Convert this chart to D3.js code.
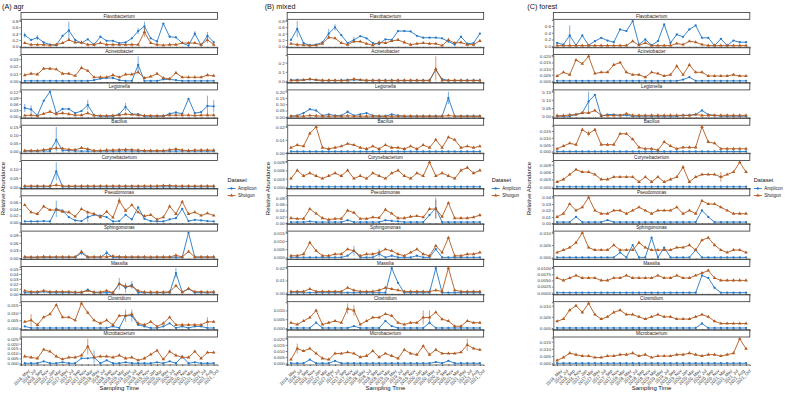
<!DOCTYPE html>
<html>
<head>
<meta charset="utf-8">
<script src="https://cdn.jsdelivr.net/npm/d3@7"></script>
<style>
  body { margin: 0; background: #fff; }
  text { font-family: "Liberation Sans", Arial, sans-serif; }
</style>
</head>
<body>
<svg id="chart" width="788" height="393"></svg>
<script>
// sampling times (x axis)
const times = ["2016_May","2016_Jul","2016_Sep","2016_Nov","2017_Jan","2017_Mar","2017_May","2017_Jul",
  "2017_Sep","2017_Nov","2018_Mar","2018_May","2018_Jul","2018_Sep","2018_Nov","2019_Mar","2019_May",
  "2019_Jul","2019_Sep","2019_Nov","2020_Jan","2020_Mar","2020_May","2020_Jul","2020_Sep","2020_Nov",
  "2021_Mar","2021_May","2021_Jul","2021_Aug","2021_Oct"];
const genera = ["Flavobacterium","Acinetobacter","Legionella","Bacillus","Corynebacterium",
  "Pseudomonas","Sphingomonas","Massilia","Clostridium","Microbacterium"];
const sites = ["agr","mixed","forest"];
const siteTitles = ["(A) agr","(B) mixed","(C) forest"];
const datasets = ["Amplicon","Shotgun"];

// mean relative abundance, one row per genus (same order as genera)
const agrAmplicon = [
  [0.35,0.2,0.27,0.12,0.05,0.03,0.33,0.5,0.2,0.1,0.22,0.05,0.3,0.17,0.17,0.1,0.12,0.25,0.48,0.63,0.25,0.15,0.72,0.3,0.28,0.1,0.02,0.4,0.03,0.33,0.13],
  [0,0,0,0,0,0,0,0,0,0,0,0.001,0.003,0.004,0.004,0.001,0,0,0.022,0,0,0,0.002,0.002,0.001,0,0,0,0,0,0],
  [0.04,0.033,0.003,0.075,0.12,0.015,0.035,0.035,0.015,0.025,0.055,0.005,0,0,0,0.01,0.045,0.01,0.01,0,0,0,0,0.012,0.018,0.012,0.085,0.015,0.02,0.05,0.048],
  [0.002,0.002,0.002,0.003,0.002,0.07,0.005,0.005,0.003,0.002,0.002,0.002,0.002,0.002,0.002,0.002,0.003,0.002,0.002,0.002,0.002,0.002,0.002,0.002,0.002,0.003,0.002,0.002,0.002,0.002,0.002],
  [0.001,0.001,0.001,0.001,0.001,0.085,0.001,0.001,0.001,0.001,0.001,0.001,0.001,0.001,0.001,0.001,0.001,0.001,0.001,0.001,0.001,0.001,0.001,0.001,0.001,0.001,0.001,0.001,0.001,0.001,0.001],
  [0.002,0.002,0.002,0.003,0.002,0.04,0.035,0.015,0.005,0.003,0.015,0.022,0.02,0.015,0.002,0.003,0.022,0.008,0.045,0.01,0.003,0.002,0.002,0.008,0.012,0.04,0.003,0.007,0.005,0.003,0.002],
  [0.002,0.002,0.002,0.002,0.002,0.002,0.002,0.002,0.002,0.02,0.002,0.003,0.002,0.02,0.002,0.002,0.002,0.002,0.002,0.002,0.002,0.002,0.002,0.002,0.002,0.002,0.1,0.002,0.002,0.002,0.002],
  [0.002,0.002,0.002,0.004,0.002,0.002,0.002,0.002,0.002,0.002,0.008,0.002,0.002,0.002,0.002,0.02,0.012,0.018,0.002,0.002,0.002,0.002,0.002,0.002,0.042,0.003,0.01,0.002,0.002,0.002,0.002],
  [0.001,0,0,0,0,0,0,0,0,0,0,0,0,0,0.001,0,0.008,0.008,0.002,0.001,0,0,0.001,0.003,0,0.001,0,0.001,0.001,0,0],
  [0,0,0,0.002,0,0,0.001,0,0,0.005,0.005,0.006,0,0.003,0,0,0.001,0,0,0,0,0.001,0,0.002,0,0.007,0,0.001,0,0,0]
];
const agrShotgun = [
  [0.1,0.05,0.05,0.05,0.03,0.05,0.1,0.2,0.12,0.12,0.05,0.05,0.1,0.05,0.05,0.05,0.05,0.05,0.05,0.45,0.1,0.05,0.03,0.05,0.05,0.1,0.1,0.1,0.05,0.2,0.05],
  [0.008,0.01,0.009,0.017,0.017,0.016,0.01,0.01,0.007,0.018,0.014,0.005,0.005,0.005,0.008,0.005,0.009,0.009,0.012,0.004,0.006,0.01,0.004,0.003,0.011,0.005,0.005,0.005,0.005,0.008,0.007],
  [0.003,0.005,0.002,0.012,0.022,0.01,0.015,0.01,0.005,0.005,0.015,0.003,0.002,0.002,0.003,0.005,0.01,0.008,0.005,0.003,0.002,0.002,0.002,0.005,0.005,0.005,0.005,0.003,0.005,0.005,0.005],
  [0.005,0.005,0.005,0.01,0.015,0.02,0.018,0.012,0.01,0.022,0.015,0.005,0.005,0.008,0.008,0.01,0.012,0.01,0.008,0.005,0.005,0.005,0.005,0.01,0.015,0.008,0.005,0.008,0.008,0.008,0.008],
  [0.005,0.005,0.005,0.005,0.005,0.01,0.005,0.005,0.005,0.005,0.005,0.005,0.005,0.005,0.005,0.005,0.005,0.005,0.005,0.005,0.005,0.005,0.008,0.008,0.005,0.005,0.005,0.005,0.005,0.005,0.005],
  [0.052,0.03,0.025,0.048,0.037,0.037,0.032,0.03,0.017,0.04,0.03,0.025,0.015,0.032,0.014,0.065,0.035,0.052,0.03,0.018,0.022,0.008,0.015,0.048,0.025,0.062,0.025,0.03,0.02,0.027,0.02],
  [0.004,0.003,0.003,0.005,0.004,0.004,0.004,0.004,0.004,0.025,0.004,0.004,0.004,0.004,0.007,0.005,0.004,0.004,0.004,0.004,0.003,0.004,0.004,0.004,0.01,0.004,0.025,0.004,0.004,0.004,0.004],
  [0.006,0.004,0.004,0.006,0.004,0.004,0.004,0.004,0.003,0.003,0.006,0.003,0.003,0.006,0.002,0.02,0.015,0.015,0.006,0.003,0.003,0.003,0.003,0.004,0.016,0.003,0.01,0.004,0.004,0.003,0.004],
  [0.004,0.005,0.002,0.007,0.009,0.015,0.007,0.007,0.005,0.016,0.01,0.005,0.003,0.005,0.002,0.008,0.008,0.009,0.003,0.002,0.004,0.001,0.003,0.007,0.002,0.002,0.002,0.002,0.002,0.004,0.004],
  [0.007,0.006,0.005,0.014,0.012,0.007,0.004,0.006,0.006,0.008,0.017,0.006,0.007,0.007,0.006,0.008,0.005,0.006,0.003,0.005,0.009,0.013,0.004,0.012,0.008,0.006,0.006,0.012,0.005,0.011,0.011]
];
const mixedAmplicon = [
  [0.2,0.55,0.1,0.03,0.05,0.12,0.4,0.6,0.35,0.1,0.2,0.32,0.25,0.1,0.07,0.22,0.2,0.48,0.48,0.47,0.33,0.27,0.27,0.27,0.25,0.15,0.05,0.3,0.08,0.1,0.4],
  [0.01,0.01,0.01,0.015,0.01,0.005,0.005,0.005,0.005,0.01,0.01,0.01,0.005,0.005,0.005,0.005,0.005,0.005,0.005,0.005,0.005,0.005,0.005,0.12,0.02,0.005,0.005,0.005,0.005,0.005,0.005],
  [0.005,0.01,0.03,0.06,0.05,0.01,0.02,0.01,0.01,0.04,0.01,0.02,0.03,0.01,0.005,0.005,0.02,0.01,0.005,0.005,0.005,0.005,0.005,0.005,0.005,0.15,0.005,0.005,0.005,0.005,0.005],
  [0.001,0.001,0.001,0.001,0.001,0.001,0.001,0.001,0.001,0.001,0.001,0.001,0.001,0.001,0.001,0.001,0.001,0.001,0.001,0.001,0.001,0.001,0.001,0.001,0.001,0.001,0.001,0.001,0.001,0.001,0.001],
  [0,0,0,0,0,0,0,0,0,0,0,0,0,0,0,0,0,0,0,0,0,0,0,0,0,0,0,0,0,0,0],
  [0.002,0.002,0.002,0.004,0.002,0.002,0.002,0.002,0.002,0.008,0.002,0.002,0.002,0.002,0.002,0.008,0.006,0.004,0.002,0.002,0.002,0.002,0.025,0.048,0.002,0.002,0.002,0.002,0.002,0.002,0.002],
  [0,0,0,0,0,0,0,0,0,0.001,0.004,0,0,0,0.002,0,0.001,0,0,0,0.001,0,0,0.005,0,0,0,0,0,0,0],
  [0,0,0,0,0,0,0,0,0,0,0,0,0,0,0,0,0.02,0.008,0,0,0,0,0,0.02,0,0,0,0,0,0,0],
  [0,0,0,0,0.003,0,0,0,0,0,0.001,0,0,0,0,0.004,0.001,0,0,0,0,0,0.003,0,0,0,0,0,0,0,0],
  [0,0,0,0.003,0,0,0,0.002,0,0,0,0,0,0,0,0,0,0,0,0,0,0,0,0.001,0,0.002,0,0,0,0,0]
];
const mixedShotgun = [
  [0.08,0.05,0.04,0.02,0.03,0.08,0.28,0.25,0.1,0.05,0.15,0.15,0.08,0.03,0.12,0.1,0.17,0.2,0.12,0.05,0.08,0.1,0.08,0.08,0.02,0.2,0.1,0.12,0.05,0.05,0.17],
  [0.005,0.005,0.01,0.02,0.01,0.005,0.005,0.005,0.005,0.005,0.02,0.01,0.005,0.005,0.005,0.005,0.005,0.005,0.005,0.005,0.005,0.005,0.005,0.13,0.005,0.005,0.005,0.005,0.005,0.005,0.005],
  [0.005,0.005,0.005,0.01,0.008,0.005,0.005,0.005,0.005,0.008,0.005,0.005,0.005,0.005,0.005,0.005,0.005,0.005,0.005,0.005,0.005,0.005,0.005,0.005,0.005,0.01,0.005,0.005,0.005,0.005,0.005],
  [0.004,0.006,0.005,0.015,0.02,0.004,0.003,0.004,0.005,0.007,0.006,0.004,0.003,0.005,0.003,0.006,0.004,0.004,0.003,0.005,0.003,0.006,0.004,0.01,0.004,0.012,0.01,0.004,0.005,0.004,0.005],
  [0.003,0.006,0.004,0.005,0.004,0.003,0.004,0.005,0.004,0.006,0.003,0.004,0.003,0.005,0.004,0.003,0.005,0.006,0.004,0.003,0.005,0.004,0.009,0.004,0.005,0.004,0.003,0.006,0.007,0.005,0.006],
  [0.015,0.013,0.013,0.045,0.03,0.015,0.01,0.013,0.013,0.04,0.033,0.013,0.013,0.018,0.016,0.043,0.03,0.015,0.015,0.02,0.022,0.018,0.045,0.045,0.02,0.065,0.015,0.015,0.015,0.018,0.025],
  [0.001,0.001,0.002,0.009,0.004,0.001,0.001,0.002,0.002,0.005,0.004,0.001,0.002,0.002,0.003,0.005,0.004,0.002,0.001,0.003,0.005,0.002,0.001,0.007,0.003,0.012,0.001,0.001,0.002,0.002,0.003],
  [0.001,0.001,0.001,0.003,0.001,0.001,0.001,0.001,0.001,0.004,0.002,0.001,0.001,0.001,0.002,0.004,0.003,0.002,0.001,0.001,0.001,0.001,0.001,0.002,0.001,0.02,0.002,0.001,0.001,0.001,0.001],
  [0.003,0.002,0.004,0.006,0.01,0.002,0.003,0.004,0.003,0.011,0.01,0.002,0.004,0.006,0.006,0.008,0.007,0.003,0.002,0.003,0.003,0.006,0.006,0.009,0.005,0.004,0.001,0.001,0.004,0.003,0.003],
  [0.003,0.012,0.01,0.012,0.008,0.004,0.003,0.008,0.008,0.009,0.008,0.005,0.006,0.01,0.005,0.008,0.006,0.004,0.011,0.008,0.007,0.014,0.007,0.011,0.008,0.008,0.008,0.009,0.015,0.012,0.011]
];
const forestAmplicon = [
  [0.1,0.05,0.32,0.03,0.32,0.03,0.15,0.25,0.17,0.12,0.5,0.45,0.75,0.05,0.2,0.03,0.15,0.65,0.1,0.35,0.28,0.5,0.62,0.25,0.25,0.02,0.22,0.02,0.17,0.12,0.12],
  [0,0,0,0,0,0,0,0,0,0,0,0,0,0,0,0,0,0,0,0,0.001,0.003,0,0,0,0,0,0,0,0,0],
  [0,0,0,0.01,0.02,0.09,0.13,0,0.01,0.01,0.005,0.005,0,0,0,0,0,0,0,0,0.005,0.005,0.01,0.035,0.01,0.005,0,0,0,0,0],
  [0,0,0,0,0,0,0,0,0,0,0,0,0,0,0,0,0,0,0,0,0,0,0,0,0,0,0,0,0,0,0],
  [0,0,0,0,0,0,0,0,0,0,0,0,0,0,0,0,0,0,0,0,0,0,0,0,0,0,0,0,0,0,0],
  [0.002,0.002,0.002,0.01,0.002,0.002,0.002,0.002,0.005,0.002,0.002,0.002,0.002,0.002,0.002,0.002,0.002,0.002,0.002,0.002,0.002,0.002,0.002,0.02,0.01,0.002,0.002,0.002,0.002,0.002,0.002],
  [0,0,0,0,0,0,0,0,0,0,0.002,0,0.005,0,0,0.008,0,0.004,0,0,0,0,0.003,0,0,0,0,0,0,0,0],
  [0,0,0,0,0,0,0,0,0,0,0,0,0,0,0,0,0,0,0,0,0,0,0,0.007,0.006,0.002,0,0,0,0,0],
  [0,0,0,0,0,0,0,0,0,0,0,0,0,0,0,0,0,0,0,0,0,0,0,0.002,0,0,0,0,0,0,0],
  [0,0,0,0,0,0,0,0,0,0,0,0,0,0,0,0,0,0,0,0,0,0,0,0,0,0,0,0,0,0,0]
];
const forestShotgun = [
  [0.02,0.02,0.02,0.02,0.02,0.02,0.02,0.02,0.02,0.02,0.02,0.02,0.15,0.03,0.1,0.02,0.02,0.02,0.02,0.08,0.05,0.15,0.12,0.05,0.02,0.02,0.02,0.02,0.02,0.02,0.02],
  [0.004,0.007,0.005,0.017,0.014,0.02,0.006,0.007,0.007,0.013,0.015,0.007,0.005,0.005,0.003,0.007,0.006,0.004,0.005,0.012,0.005,0.013,0.007,0.007,0.004,0.004,0.004,0.004,0.005,0.004,0.004],
  [0.003,0.003,0.008,0.01,0.02,0.02,0.035,0.005,0.005,0.005,0.005,0.015,0.005,0.005,0.005,0.005,0.005,0.005,0.005,0.005,0.005,0.005,0.01,0.005,0.005,0.005,0.005,0.005,0.005,0.005,0.005],
  [0.002,0.004,0.006,0.005,0.016,0.013,0.016,0.005,0.005,0.005,0.013,0.013,0.009,0.003,0.002,0.002,0.001,0.007,0.004,0.002,0.003,0.003,0.003,0.018,0.007,0.006,0.002,0.002,0.002,0.002,0.002],
  [0.002,0.003,0.005,0.007,0.006,0.006,0.005,0.003,0.003,0.004,0.004,0.004,0.004,0.002,0.004,0.002,0.004,0.002,0.003,0.004,0.008,0.002,0.004,0.005,0.005,0.005,0.004,0.005,0.006,0.01,0.006],
  [0.01,0.015,0.03,0.02,0.025,0.04,0.02,0.015,0.015,0.02,0.02,0.015,0.02,0.025,0.02,0.015,0.02,0.02,0.02,0.025,0.015,0.02,0.015,0.035,0.03,0.03,0.025,0.02,0.015,0.015,0.015],
  [0.002,0.003,0.004,0.006,0.01,0.004,0.003,0.003,0.003,0.005,0.003,0.003,0.003,0.006,0.004,0.003,0.003,0.003,0.003,0.004,0.004,0.005,0.003,0.007,0.008,0.005,0.003,0.002,0.003,0.003,0.002],
  [0.006,0.005,0.006,0.007,0.006,0.006,0.006,0.005,0.005,0.006,0.006,0.007,0.006,0.006,0.006,0.006,0.007,0.006,0.006,0.007,0.006,0.006,0.007,0.008,0.009,0.006,0.005,0.005,0.005,0.005,0.005],
  [0.003,0.004,0.008,0.01,0.007,0.011,0.006,0.004,0.005,0.007,0.008,0.006,0.006,0.005,0.004,0.005,0.006,0.005,0.005,0.004,0.004,0.004,0.005,0.006,0.005,0.003,0.002,0.002,0.002,0.002,0.002],
  [0.002,0.004,0.007,0.006,0.005,0.005,0.004,0.004,0.005,0.005,0.006,0.006,0.007,0.005,0.006,0.004,0.005,0.005,0.005,0.006,0.006,0.007,0.006,0.005,0.006,0.006,0.005,0.006,0.007,0.017,0.01]
];

// y tick labels per facet
const agrTicks = [
  ["0.0","0.2","0.4","0.6","0.8"], ["0.00","0.01","0.02","0.03"], ["0.00","0.03","0.06","0.09","0.12"],
  ["0.00","0.05","0.10","0.15"], ["0.00","0.05","0.10"], ["0.00","0.02","0.04","0.06"],
  ["0.00","0.03","0.06","0.09"], ["0.00","0.01","0.02","0.03","0.04","0.05"],
  ["0.000","0.005","0.010","0.015"], ["0.000","0.005","0.010","0.015","0.020","0.025"]
];
const mixedTicks = [
  ["0.0","0.2","0.4","0.6","0.8"], ["0.0","0.1","0.2"], ["0.00","0.05","0.10","0.15","0.20"],
  ["0.00","0.01","0.02"], ["0.000","0.003","0.006","0.009"], ["0.00","0.02","0.04","0.06","0.08"],
  ["0.000","0.005","0.010","0.015"], ["0.00","0.01","0.02"],
  ["0.000","0.005","0.010"], ["0.000","0.005","0.010","0.015","0.020"]
];
const forestTicks = [
  ["0.0","0.2","0.4","0.6"], ["0.000","0.005","0.010","0.015","0.020"], ["0.00","0.05","0.10","0.15"],
  ["0.000","0.005","0.010","0.015"], ["0.000","0.003","0.006","0.009"], ["0.00","0.01","0.02","0.03","0.04"],
  ["0.000","0.005","0.010"], ["0.0000","0.0025","0.0050","0.0075","0.0100"],
  ["0.000","0.005","0.010"], ["0.000","0.005","0.010","0.015"]
];

// larger standard errors: [site, genus, dataset, time index, se]
const errorBars = [
  ["agr","Flavobacterium","Amplicon",0,0.08],["agr","Flavobacterium","Amplicon",2,0.08],
  ["agr","Flavobacterium","Amplicon",7,0.28],["agr","Flavobacterium","Amplicon",18,0.1],
  ["agr","Flavobacterium","Amplicon",19,0.15],["agr","Flavobacterium","Amplicon",27,0.08],
  ["agr","Flavobacterium","Amplicon",29,0.12],["agr","Flavobacterium","Shotgun",19,0.15],
  ["agr","Flavobacterium","Shotgun",29,0.1],
  ["agr","Acinetobacter","Amplicon",18,0.012],
  ["agr","Legionella","Amplicon",0,0.02],["agr","Legionella","Amplicon",1,0.02],
  ["agr","Legionella","Amplicon",10,0.025],["agr","Legionella","Amplicon",16,0.02],
  ["agr","Legionella","Amplicon",29,0.05],["agr","Legionella","Amplicon",30,0.03],
  ["agr","Bacillus","Amplicon",5,0.08],["agr","Corynebacterium","Amplicon",5,0.05],
  ["agr","Pseudomonas","Amplicon",5,0.025],["agr","Pseudomonas","Amplicon",10,0.015],
  ["agr","Pseudomonas","Shotgun",15,0.01],
  ["agr","Sphingomonas","Amplicon",9,0.01],["agr","Sphingomonas","Amplicon",13,0.01],
  ["agr","Massilia","Amplicon",15,0.012],["agr","Massilia","Amplicon",16,0.01],
  ["agr","Massilia","Amplicon",17,0.008],["agr","Massilia","Amplicon",24,0.01],
  ["agr","Clostridium","Shotgun",1,0.004],["agr","Clostridium","Amplicon",16,0.004],
  ["agr","Clostridium","Amplicon",17,0.004],["agr","Clostridium","Shotgun",29,0.003],
  ["agr","Microbacterium","Shotgun",10,0.008],["agr","Microbacterium","Amplicon",11,0.007],
  ["mixed","Flavobacterium","Amplicon",1,0.25],["mixed","Flavobacterium","Amplicon",6,0.15],
  ["mixed","Flavobacterium","Amplicon",7,0.1],["mixed","Flavobacterium","Amplicon",10,0.1],
  ["mixed","Flavobacterium","Shotgun",6,0.05],
  ["mixed","Acinetobacter","Shotgun",23,0.14],["mixed","Legionella","Amplicon",25,0.05],
  ["mixed","Pseudomonas","Shotgun",23,0.03],["mixed","Pseudomonas","Amplicon",23,0.035],
  ["mixed","Sphingomonas","Amplicon",10,0.003],["mixed","Sphingomonas","Amplicon",14,0.003],
  ["mixed","Clostridium","Shotgun",9,0.003],["mixed","Clostridium","Shotgun",10,0.003],
  ["mixed","Clostridium","Shotgun",21,0.004],["mixed","Clostridium","Shotgun",22,0.004],
  ["mixed","Microbacterium","Shotgun",1,0.004],["mixed","Microbacterium","Shotgun",28,0.005],
  ["forest","Flavobacterium","Amplicon",2,0.3],["forest","Legionella","Amplicon",5,0.06],
  ["forest","Bacillus","Shotgun",5,0.002],["forest","Corynebacterium","Shotgun",26,0.002]
];

const colors = { Amplicon: "#2478c6", Shotgun: "#b35a1f" };
const values = {
  agr: { Amplicon: agrAmplicon, Shotgun: agrShotgun },
  mixed: { Amplicon: mixedAmplicon, Shotgun: mixedShotgun },
  forest: { Amplicon: forestAmplicon, Shotgun: forestShotgun }
};
const ticks = { agr: agrTicks, mixed: mixedTicks, forest: forestTicks };

const svg = d3.select("#chart");
const panelW = 788 / 3;
const plotLeft = [21, 24.5, 28];
const legendGap = [10, 8, 4];
const plotW = 196.5;
const top0 = 12, facetStep = 35.3, stripH = 7.8, panelH = 27;

sites.forEach((site, p) => {
  const ox = p * panelW;
  const left = ox + plotLeft[p];
  const right = left + plotW;
  const g = svg.append("g");

  g.append("text").attr("x", ox + 2).attr("y", 8.5)
    .attr("font-size", 7.2).attr("fill", "#111").text(siteTitles[p]);

  const x = d3.scalePoint().domain(times).range([left, right]).padding(0.6);

  genera.forEach((genus, gi) => {
    const top = top0 + gi * facetStep;
    const pTop = top + stripH;
    const pBot = pTop + panelH;

    const errs = {};
    errorBars.filter(e => e[0] === site && e[1] === genus)
      .forEach(e => { errs[e[2] + e[3]] = e[4]; });

    const series = datasets.map(ds => ({
      ds,
      pts: values[site][ds][gi].map((v, i) => ({ t: times[i], v, se: errs[ds + i] || 0 }))
    }));

    const tickVals = ticks[site][gi];
    const hi = d3.max([d3.max(series, s => d3.max(s.pts, d => d.v + d.se)), +tickVals[tickVals.length - 1]]);
    const lo = d3.min(series, s => d3.min(s.pts, d => Math.max(0, d.v - d.se)));
    const pad = (hi - lo) * 0.05;
    const y = d3.scaleLinear().domain([lo - pad, hi + pad]).range([pBot, pTop]);

    // strip
    g.append("rect").attr("x", left).attr("y", top + 0.5).attr("width", plotW).attr("height", stripH - 1)
      .attr("fill", "#fff").attr("stroke", "#333").attr("stroke-width", 0.8);
    g.append("text").attr("x", (left + right) / 2).attr("y", top + stripH / 2 + 1.6)
      .attr("text-anchor", "middle").attr("font-size", 4.6).attr("fill", "#222").text(genus);

    // y axis
    const yAxis = d3.axisLeft(y).tickValues(tickVals.map(Number))
      .tickFormat((d, i) => tickVals[i]).tickSize(1.5).tickPadding(1);
    const ya = g.append("g").attr("transform", `translate(${left},0)`).call(yAxis);
    ya.select(".domain").attr("stroke", "#000").attr("stroke-width", 0.6);
    ya.selectAll(".tick line").attr("stroke", "#000").attr("stroke-width", 0.5);
    ya.selectAll("text").attr("font-size", 4.4).attr("fill", "#333")
      .attr("font-family", "Liberation Sans, Arial, sans-serif");

    // x axis line
    const xAxis = d3.axisBottom(x).tickSize(1.5).tickFormat(gi === genera.length - 1 ? null : "");
    const xa = g.append("g").attr("transform", `translate(0,${pBot})`).call(xAxis);
    xa.select(".domain").attr("stroke", "#000").attr("stroke-width", 0.6);
    xa.selectAll(".tick line").attr("stroke", "#000").attr("stroke-width", 0.5);
    if (gi === genera.length - 1) {
      xa.selectAll("text").attr("font-size", 4.4).attr("fill", "#333")
        .attr("font-family", "Liberation Sans, Arial, sans-serif")
        .attr("text-anchor", "end").attr("dy", 0)
        .attr("transform", "translate(1.5,3.5) rotate(-45)");
    }

    const line = d3.line().x(d => x(d.t)).y(d => y(d.v));

    series.forEach(s => {
      const c = colors[s.ds];
      const sg = g.append("g");
      sg.selectAll(".eb").data(s.pts.filter(d => d.se > 0)).join("line")
        .attr("x1", d => x(d.t)).attr("x2", d => x(d.t))
        .attr("y1", d => y(Math.max(lo, d.v - d.se))).attr("y2", d => y(d.v + d.se))
        .attr("stroke", c).attr("stroke-width", 0.6);
      sg.append("path").datum(s.pts).attr("d", line)
        .attr("fill", "none").attr("stroke", c).attr("stroke-width", 0.9);
      if (s.ds === "Amplicon") {
        sg.selectAll(".pt").data(s.pts).join("circle")
          .attr("cx", d => x(d.t)).attr("cy", d => y(d.v)).attr("r", 1.15).attr("fill", c);
      } else {
        const tri = d3.symbol().type(d3.symbolTriangle).size(5.5);
        sg.selectAll(".pt").data(s.pts).join("path")
          .attr("d", tri).attr("transform", d => `translate(${x(d.t)},${y(d.v)})`).attr("fill", c);
      }
    });
  });

  // axis titles
  const midY = (top0 + top0 + genera.length * facetStep) / 2;
  g.append("text").attr("transform", `translate(${ox + (p === 0 ? 4.5 : p === 1 ? 7.5 : 6)},${midY}) rotate(-90)`)
    .attr("text-anchor", "middle").attr("font-size", 6).attr("fill", "#111").text("Relative Abundance");
  g.append("text").attr("x", (left + right) / 2).attr("y", 390)
    .attr("text-anchor", "middle").attr("font-size", 6).attr("fill", "#111").text("Sampling Time");

  // legend
  const lx = right + legendGap[p], ly = 182;
  g.append("text").attr("x", lx).attr("y", ly).attr("font-size", 5.6).attr("fill", "#111").text("Dataset");
  datasets.forEach((ds, i) => {
    const yy = ly + 6.5 + i * 7;
    const c = colors[ds];
    g.append("line").attr("x1", lx).attr("x2", lx + 8).attr("y1", yy).attr("y2", yy)
      .attr("stroke", c).attr("stroke-width", 0.9);
    if (ds === "Amplicon") {
      g.append("circle").attr("cx", lx + 4).attr("cy", yy).attr("r", 1.15).attr("fill", c);
    } else {
      g.append("path").attr("d", d3.symbol().type(d3.symbolTriangle).size(5.5)())
        .attr("transform", `translate(${lx + 4},${yy})`).attr("fill", c);
    }
    g.append("text").attr("x", lx + 10.5).attr("y", yy + 1.6).attr("font-size", 4.5).attr("fill", "#222").text(ds);
  });
});
</script>
</body>
</html>
